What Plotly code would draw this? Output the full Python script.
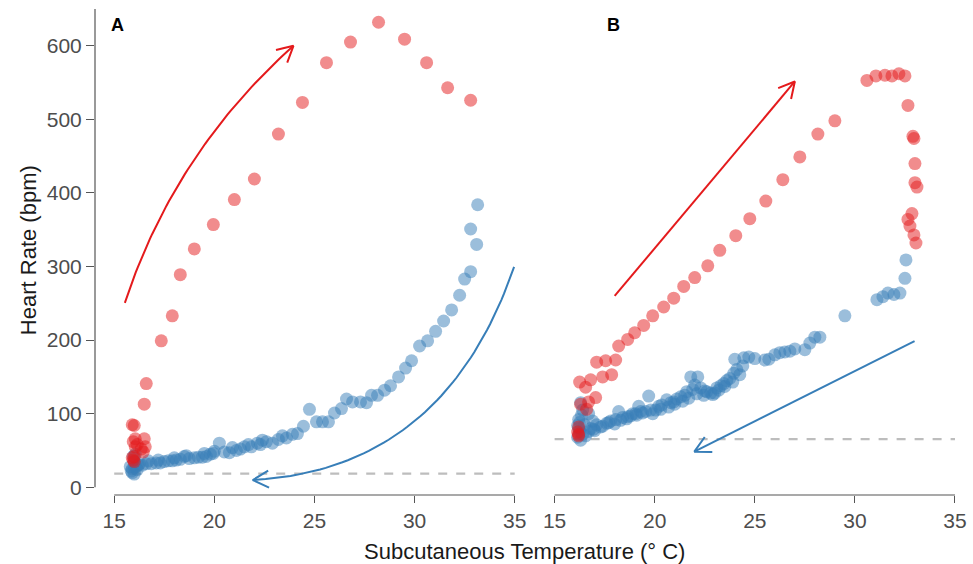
import numpy as np
import plotly.graph_objects as go

# ---------------- data ----------------
# Panel A (heating = red, cooling = blue)
a_heat_x = [15.9, 16.0, 16.05, 15.95, 16.15, 16.5, 16.05, 16.35, 16.45, 16.55,
            15.95, 16.0, 15.9, 16.0, 16.5, 16.6, 17.35, 17.9, 18.3, 19.0,
            19.95, 21.0, 22.0, 23.2, 24.4, 25.6, 26.8, 28.2, 29.5, 30.6,
            31.65, 32.8]
a_heat_y = [85, 84, 66, 62, 58, 66, 55, 52, 48, 55,
            37, 35, 40, 42, 113, 141, 199, 233, 289, 324,
            357, 391, 419, 480, 523, 577, 605, 632, 609, 577,
            543, 526]

a_cool_x = [33.15, 32.8, 33.1, 32.8, 32.5, 32.25, 31.85, 31.45, 31.05, 30.65,
            30.25, 29.85, 29.55, 29.2, 28.8, 28.5, 28.15, 27.85, 27.6, 27.3,
            26.9, 26.6, 26.35, 26.0, 25.7, 25.4, 25.1, 24.75, 24.45, 24.15,
            23.9, 23.6, 23.2, 22.9, 22.6, 22.4, 22.15, 21.85, 21.5, 21.3,
            21.1, 20.75, 20.5, 20.25, 19.95, 19.8, 19.6, 19.4, 19.2, 19.0,
            18.75, 18.5, 18.3, 18.1, 17.9, 17.7, 17.5, 17.3, 17.1, 16.85,
            16.6, 16.4, 16.2, 16.1, 16.0, 15.9, 15.85, 15.95, 16.05, 15.9,
            16.0, 16.15, 15.8, 16.25, 16.0, 16.7, 17.2, 18.0, 18.6, 19.5,
            20.0, 20.9, 21.7, 22.3, 23.4]
a_cool_y = [384, 351, 330, 293, 283, 261, 241, 226, 212, 199,
            192, 172, 162, 150, 138, 132, 125, 125, 115, 116,
            116, 120, 107, 101, 89, 89, 89, 106, 83, 73,
            72, 67, 65, 60, 62, 64, 60, 55, 55, 52,
            50, 47, 48, 60, 46, 45, 42, 41, 41, 40,
            39, 42, 38, 37, 36, 36, 35, 33, 33, 32,
            32, 30, 30, 28, 27, 25, 22, 42, 45, 20,
            18, 24, 28, 32, 35, 36, 37, 40, 43, 46,
            49, 54, 58, 58, 70]

# Panel B
b_heat_x = [16.2, 16.15, 16.2, 16.2, 16.3, 16.6, 16.7, 17.05, 16.25, 16.55,
            16.8, 17.4, 17.85, 17.1, 17.55, 18.05, 18.2, 18.65, 19.0, 19.45,
            19.9, 20.45, 20.95, 21.45, 22.0, 22.65, 23.25, 24.05, 24.75, 25.55,
            26.4, 27.25, 28.15, 29.0, 30.6, 31.05, 31.5, 31.85, 32.2, 32.5,
            32.65, 32.9, 32.95, 33.0, 33.0, 33.1, 32.85, 32.65, 32.75, 32.95,
            33.05]
b_heat_y = [72, 75, 70, 82, 113, 106, 116, 122, 143, 136,
            146, 150, 153, 170, 172, 173, 192, 201, 210, 220,
            233, 245, 257, 273, 285, 301, 322, 342, 365, 389,
            418, 449, 480, 498, 553, 559, 560, 559, 562, 559,
            519, 477, 474, 440, 414, 408, 372, 364, 355, 343,
            332]

b_cool_x = [32.55, 32.5, 32.25, 31.95, 31.65, 31.4, 31.1, 29.5, 28.25, 28.0,
            27.75, 27.5, 27.0, 26.75, 26.5, 26.25, 26.0, 25.7, 25.5, 25.0,
            24.7, 24.45, 24.25, 24.0, 23.95, 23.75, 23.45, 23.1, 22.8, 22.45,
            22.15, 21.8, 22.0, 21.6, 21.3, 20.95, 20.6, 20.35, 20.05, 19.7,
            19.55, 19.2, 19.05, 18.65, 18.2, 18.05, 17.6, 17.3, 16.95, 16.7,
            16.7, 16.4, 16.3, 16.2, 16.2, 16.3, 16.15, 16.25, 16.4, 16.55,
            17.8, 18.4, 18.9, 19.3, 19.8, 20.2, 20.8, 21.1, 21.5, 21.9,
            22.3, 22.6, 23.0, 23.3, 23.6, 24.1, 24.4, 17.1, 16.9, 16.5,
            16.8, 17.0, 17.4, 17.7, 18.0, 18.3, 18.6, 18.8, 19.1, 19.4,
            19.9, 20.3, 20.7, 21.0, 21.4, 21.7, 22.1, 22.5, 22.9, 23.2,
            23.5, 23.9, 16.25, 16.35, 16.15]
b_cool_y = [309, 284, 264, 262, 264, 259, 255, 233, 204, 204,
            196, 187, 188, 185, 184, 183, 180, 174, 173, 175,
            177, 176, 153, 174, 155, 148, 141, 135, 128, 125,
            150, 150, 139, 130, 123, 116, 119, 112, 105, 124,
            103, 110, 100, 96, 103, 92, 87, 82, 79, 76,
            100, 105, 115, 92, 80, 64, 68, 88, 72, 70,
            90, 95, 100, 103, 105, 110, 115, 120, 125, 133,
            135, 130, 128, 138, 145, 160, 165, 85, 90, 85,
            80, 77, 83, 88, 86, 91, 93, 97, 98, 101,
            100, 106, 109, 113, 117, 121, 127, 131, 126, 132,
            137, 143, 76, 98, 84]

# reference (resting) heart rates, dashed lines
a_rest = 18.5
b_rest = 65.6

# arrows (start, control, end) in data units
a_red_arrow = [(15.53, 250.7), (18.0, 455.0), (23.95, 600.0)]
a_blue_arrow = [(34.97, 299.6), (31.5, 24.0), (21.92, 9.9)]
b_red_arrow = [(18.0, 260.0), (27.0, 551.5)]
b_blue_arrow = [(32.98, 198.8), (21.98, 48.4)]

x_ticks = [15, 20, 25, 30, 35]
y_ticks = [0, 100, 200, 300, 400, 500, 600]

# ---------------- layout geometry ----------------
W, H = 973, 564
ML, MR, MT, MB = 95, 6, 9, 69
XR = [14.04, 35.5]
YR = [-10.46, 650]
PW = W - ML - MR
PH = H - MT - MB
A_dom = [0, (525.7 - ML) / PW]
B_dom = [(536.4 - ML) / PW, 1.0]
SX = (A_dom[1] - A_dom[0]) * PW / (XR[1] - XR[0])
SY = PH / (YR[1] - YR[0])

RED = "#E41A1C"
BLUE = "#377EB8"
RED_A = "rgba(228,26,28,0.5)"
BLUE_A = "rgba(55,126,184,0.5)"


def bezier(p0, c, p2, n=60):
    t = np.linspace(0, 1, n)
    x = (1 - t) ** 2 * p0[0] + 2 * (1 - t) * t * c[0] + t ** 2 * p2[0]
    y = (1 - t) ** 2 * p0[1] + 2 * (1 - t) * t * c[1] + t ** 2 * p2[1]
    return x, y


def head(tip, prev, L=18.0, ang=28.0):
    d = np.array([(tip[0] - prev[0]) * SX, (tip[1] - prev[1]) * SY])
    d = d / np.linalg.norm(d)
    b = -d
    xs, ys = [], []
    for s in (1, -1):
        a = np.radians(ang) * s
        r = np.array([b[0] * np.cos(a) - b[1] * np.sin(a),
                      b[0] * np.sin(a) + b[1] * np.cos(a)])
        xs.append(tip[0] + L * r[0] / SX)
        ys.append(tip[1] + L * r[1] / SY)
    return [xs[0], tip[0], xs[1]], [ys[0], tip[1], ys[1]]


fig = go.Figure()


def add_line(x, y, color, xa, ya, width=2, dash=None):
    fig.add_trace(go.Scatter(x=list(x), y=list(y), mode="lines", xaxis=xa, yaxis=ya,
                             line=dict(color=color, width=width, dash=dash),
                             hoverinfo="skip", showlegend=False))


def add_pts(x, y, color, xa, ya):
    fig.add_trace(go.Scatter(x=x, y=y, mode="markers", xaxis=xa, yaxis=ya,
                             marker=dict(size=13, color=color, line=dict(width=0)),
                             showlegend=False))


# dashed resting lines
add_line([15, 35], [a_rest, a_rest], "#BDBDBD", "x", "y", width=2.2, dash="dash")
add_line([15, 35], [b_rest, b_rest], "#BDBDBD", "x2", "y2", width=2.2, dash="dash")

# points
add_pts(a_cool_x, a_cool_y, BLUE_A, "x", "y")
add_pts(a_heat_x, a_heat_y, RED_A, "x", "y")
add_pts(b_cool_x, b_cool_y, BLUE_A, "x2", "y2")
add_pts(b_heat_x, b_heat_y, RED_A, "x2", "y2")

# arrows panel A (curved)
for arr, col in ((a_red_arrow, RED), (a_blue_arrow, BLUE)):
    bx, by = bezier(*arr)
    add_line(bx, by, col, "x", "y")
    hx, hy = head(arr[2], arr[1])
    add_line(hx, hy, col, "x", "y")

# arrows panel B (straight)
for arr, col in ((b_red_arrow, RED), (b_blue_arrow, BLUE)):
    add_line([arr[0][0], arr[1][0]], [arr[0][1], arr[1][1]], col, "x2", "y2")
    hx, hy = head(arr[1], arr[0])
    add_line(hx, hy, col, "x2", "y2")

AX = "#555555"
TICKF = dict(family="Liberation Sans, Arial, sans-serif", size=21, color="#4D4D4D")
common_x = dict(range=XR, tickvals=x_ticks, ticks="outside", ticklen=7, tickwidth=1,
                tickcolor=AX, showline=False, showgrid=False, zeroline=False,
                tickfont=TICKF)
fig.update_layout(
    width=W, height=H,
    margin=dict(l=ML, r=MR, t=MT, b=MB),
    plot_bgcolor="white", paper_bgcolor="white",
    xaxis=dict(domain=A_dom, anchor="y", **common_x),
    xaxis2=dict(domain=B_dom, anchor="y2", **common_x),
    yaxis=dict(range=YR, domain=[0, 1], anchor="x", tickvals=y_ticks, ticks="outside",
               ticklen=8, tickwidth=1, tickcolor=AX, showline=False, showgrid=False,
               zeroline=False, tickfont=TICKF),
    yaxis2=dict(range=YR, domain=[0, 1], anchor="x2", showticklabels=False, ticks="",
                showline=False, showgrid=False, zeroline=False),
    showlegend=False,
)

# truncated axis lines
fig.add_shape(type="line", xref="x domain", yref="y", x0=0, x1=0, y0=0, y1=650,
              line=dict(color=AX, width=1.2))
fig.add_shape(type="line", xref="x", yref="y domain", x0=15, x1=35, y0=0, y1=0,
              line=dict(color=AX, width=1.2))
fig.add_shape(type="line", xref="x2", yref="y2 domain", x0=15, x1=35, y0=0, y1=0,
              line=dict(color=AX, width=1.2))

TF = dict(family="Liberation Sans, Arial, sans-serif", size=22, color="#1A1A1A")
fig.add_annotation(text="Heart Rate (bpm)", xref="paper", yref="paper",
                   x=(28 - ML) / PW, y=1 - (250 - MT) / PH, textangle=-90,
                   showarrow=False, font=TF, xanchor="center", yanchor="middle")
fig.add_annotation(text="Subcutaneous Temperature (° C)", xref="paper", yref="paper",
                   x=(525 - ML) / PW, y=1 - (551 - MT) / PH,
                   showarrow=False, font=TF, xanchor="center", yanchor="middle")
LF = dict(family="Liberation Sans, Arial, sans-serif", size=18, color="black")
fig.add_annotation(text="<b>A</b>", xref="paper", yref="paper",
                   x=(118 - ML) / PW, y=1 - (25 - MT) / PH, showarrow=False, font=LF,
                   xanchor="center", yanchor="middle")
fig.add_annotation(text="<b>B</b>", xref="paper", yref="paper",
                   x=(615 - ML) / PW, y=1 - (25 - MT) / PH, showarrow=False, font=LF,
                   xanchor="center", yanchor="middle")

fig.write_html("out.html")
